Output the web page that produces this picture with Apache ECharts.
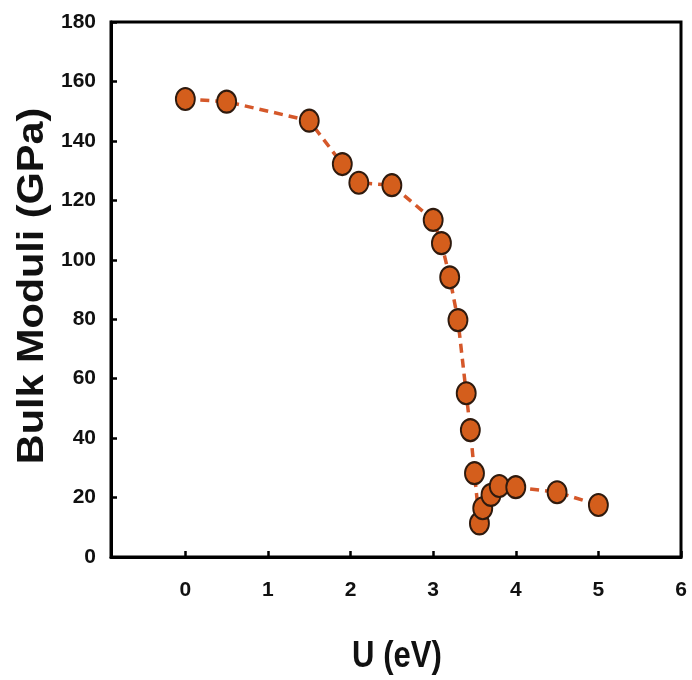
<!DOCTYPE html>
<html>
<head>
<meta charset="utf-8">
<script src="https://cdn.jsdelivr.net/npm/echarts@6/dist/echarts.min.js"></script>
<style>html,body{margin:0;padding:0;background:#fff}#c{width:692px;height:680px}</style>
</head>
<body>
<div id="c"></div>
<script>
const uValues = [0, 0.5, 1.5, 1.9, 2.1, 2.5, 3.0, 3.1, 3.2, 3.3, 3.4, 3.45, 3.5, 3.56, 3.6, 3.7, 3.8, 4.0, 4.5, 5.0];
const bulkModuli = [154.1, 153.2, 146.8, 132.2, 125.9, 125.1, 113.4, 105.6, 94.1, 79.7, 55.1, 42.7, 28.2, 11.3, 16.4, 20.9, 23.9, 23.5, 21.8, 17.5];
const xTicks = [0, 1, 2, 3, 4, 5, 6];
const xTitle = 'U (eV)';
const yTitle = 'Bulk Moduli (GPa)';

const data = uValues.map((u, i) => [u, bulkModuli[i]]);
const chart = echarts.init(document.getElementById('c'));
const tickFont = {fontFamily: '"Liberation Sans Narrow", "Liberation Sans", Arial, sans-serif', fontWeight: 'bold', fontSize: 21, color: '#111'};
chart.setOption({
  animation: false,
  backgroundColor: '#fff',
  grid: {left: 111, right: 11, top: 22, bottom: 123, show: true, borderColor: '#000', borderWidth: 3},
  xAxis: {
    type: 'value', min: -0.9, max: 6,
    axisLine: {show: true, onZero: false, lineStyle: {color: '#000', width: 3}},
    axisTick: {show: true, inside: true, length: 6, lineStyle: {color: '#000', width: 2.5}, customValues: xTicks},
    axisLabel: Object.assign({margin: 23, customValues: xTicks}, tickFont),
    splitLine: {show: false}
  },
  yAxis: {
    type: 'value', min: 0, max: 180, interval: 20,
    axisLine: {show: true, onZero: false, lineStyle: {color: '#000', width: 3}},
    axisTick: {show: true, inside: true, length: 6, lineStyle: {color: '#000', width: 2.5}},
    axisLabel: Object.assign({margin: 15}, tickFont),
    splitLine: {show: false}
  },
  graphic: [
    {type: 'text', x: 397, y: 657, scaleX: 0.84, style: {text: xTitle, font: 'bold 37px "Liberation Sans", Arial, sans-serif', fill: '#111', align: 'center', verticalAlign: 'middle'}},
    {type: 'text', x: 33, y: 286, rotation: Math.PI / 2, scaleX: 1.15, style: {text: yTitle, font: 'bold 36px "Liberation Sans", Arial, sans-serif', fill: '#111', align: 'center', verticalAlign: 'middle'}}
  ],
  series: [{
    type: 'line', data: data,
    lineStyle: {color: '#D5582A', width: 3.5, type: [9, 6]},
    symbol: 'circle', symbolSize: [19, 22],
    itemStyle: {color: '#D45E1C', borderColor: '#2e1a0e', borderWidth: 2},
    z: 3
  }]
});
</script>
</body>
</html>
